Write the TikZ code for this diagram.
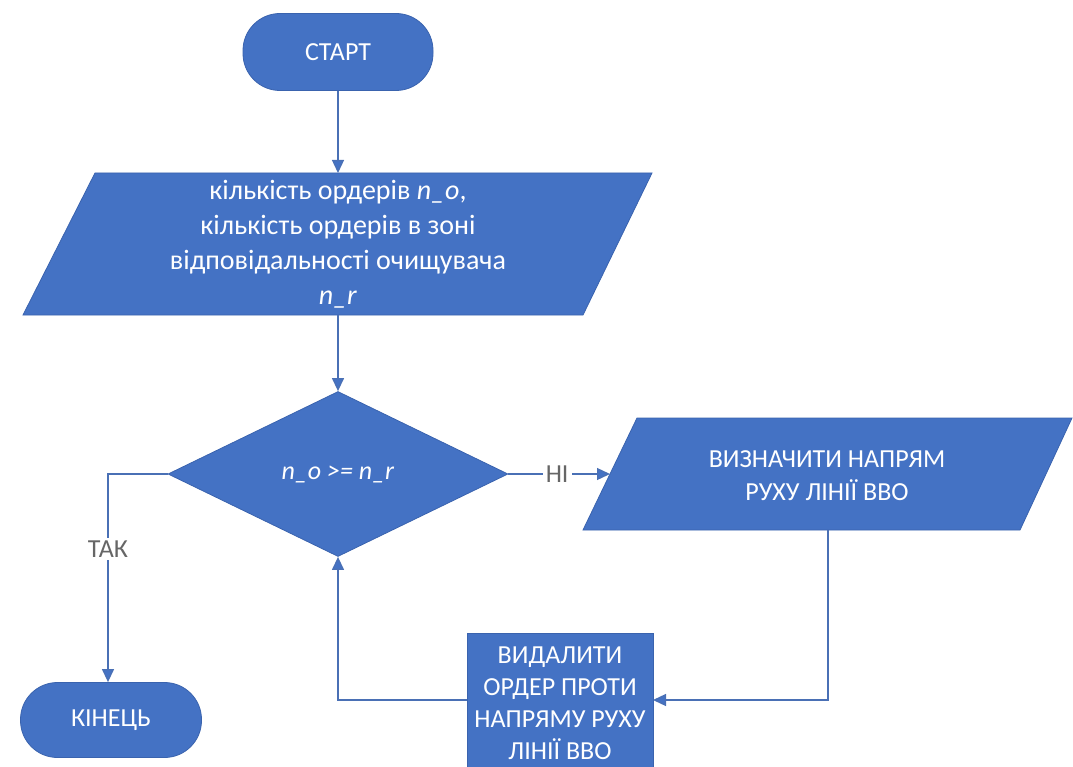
\documentclass[tikz,border=0pt]{standalone}
\usepackage{fontspec}
\setmainfont{Carlito}
\usetikzlibrary{arrows.meta,shapes.geometric}
\definecolor{shapefill}{HTML}{4472C4}
\definecolor{shapeline}{HTML}{3A63AE}
\definecolor{wire}{HTML}{4A70B5}
\definecolor{labelgray}{HTML}{666666}
\tikzset{
  blk/.style={fill=shapefill, draw=shapeline, line width=0.8pt},
  txt/.style={text=white, font=\fontsize{26pt}{33pt}\selectfont, align=center, inner sep=0pt},
  terminal/.style={blk, txt, rounded corners=37pt},
  process/.style={blk, txt},
  decision/.style={blk, txt, diamond},
  wirestyle/.style={draw=wire, line width=1.3pt, -{Triangle[length=13pt,width=12pt,fill=shapefill]}},
  lbl/.style={text=labelgray, fill=white, font=\fontsize{26pt}{30pt}\selectfont, inner sep=3pt}
}
\begin{document}
\begin{tikzpicture}[x=1pt,y=-1pt]
\useasboundingbox (0,0) rectangle (1073,767);

% start / end terminals
\node[terminal, minimum width=190pt, minimum height=77pt] (start) at (338,52) {СТАРТ};
\node[terminal, minimum width=181pt, minimum height=75pt] (fin) at (111,720) {КІНЕЦЬ};

% input parallelogram
\path[blk] (23,315) -- (95,173) -- (652,173) -- (583,315) -- cycle;
\node[txt, font=\fontsize{28pt}{35pt}\selectfont] (input) at (338,244) {кількість ордерів \textit{n\_o},\\кількість ордерів в зоні\\відповідальності очищувача\\\textit{n\_r}};
\coordinate (inN) at (338,173);
\coordinate (inS) at (338,315);

% decision
\node[decision, minimum width=340pt, minimum height=165pt] (dec) at (338,474) {\textit{n\_o >= n\_r}};

% direction parallelogram
\path[blk] (583,530) -- (637,418) -- (1072,418) -- (1020,530) -- cycle;
\node[txt] (dir) at (827,476) {ВИЗНАЧИТИ НАПРЯМ\\РУХУ ЛІНІЇ ВВО};
\coordinate (dirW) at (610,474);
\coordinate (dirS) at (828,530);

% delete-order box
\node[process, minimum width=186pt, minimum height=140pt, font=\fontsize{26pt}{32pt}\selectfont] (del) at (560,703) {ВИДАЛИТИ\\ОРДЕР ПРОТИ\\НАПРЯМУ РУХУ\\ЛІНІЇ ВВО};
\coordinate (delE) at (653,700);
\coordinate (delW) at (467,700);

% connectors
\draw[wirestyle] (start.south) -- (inN);
\draw[wirestyle] (inS) -- (dec.north);
\draw[wirestyle] (dec.east) -- node[lbl, pos=0.48] (no) {НІ} (dirW);
\draw[wirestyle] (dec.west) -| node[lbl, pos=0.68] (yes) {ТАК} ([xshift=-3pt]fin.north);
\draw[wirestyle] (dirS) |- (delE);
\draw[wirestyle] (delW) -| (dec.south);
\end{tikzpicture}
\end{document}
